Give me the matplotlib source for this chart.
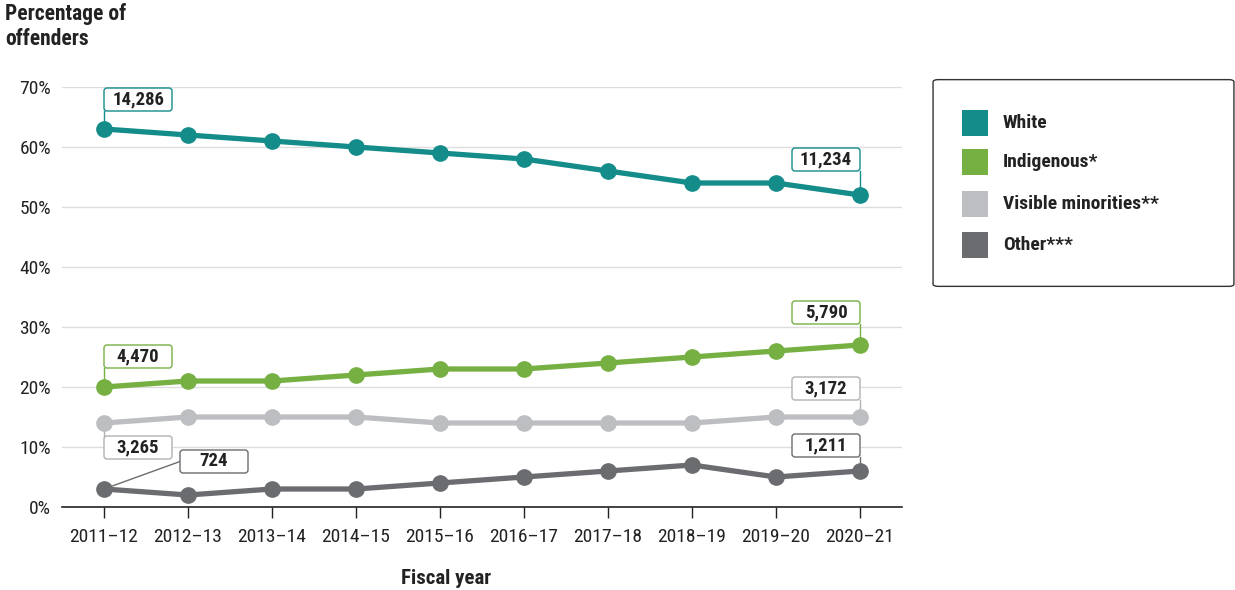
import matplotlib
matplotlib.use("Agg")
import matplotlib.pyplot as plt
from matplotlib.patches import FancyBboxPatch
from matplotlib.transforms import ScaledTranslation
from matplotlib import font_manager

names = {f.name for f in font_manager.fontManager.ttflist}
fam = [f for f in ["Roboto Condensed", "Roboto", "DejaVu Sans"] if f in names]
plt.rcParams["font.family"] = fam

years = ["2011\u201312", "2012\u201313", "2013\u201314", "2014\u201315", "2015\u201316",
         "2016\u201317", "2017\u201318", "2018\u201319", "2019\u201320", "2020\u201321"]
white = [63, 62, 61, 60, 59, 58, 56, 54, 54, 52]
indigenous = [20, 21, 21, 22, 23, 23, 24, 25, 26, 27]
visible = [14, 15, 15, 15, 14, 14, 14, 14, 15, 15]
other = [3, 2, 3, 3, 4, 5, 6, 7, 5, 6]
names_series = ["White", "Indigenous*", "Visible minorities**", "Other***"]
colors = ["#138c8a", "#76b043", "#bdbec1", "#6b6c70"]

# labels: (series index, year index, text)
labels = [(0, 0, "14,286"), (0, 9, "11,234"), (1, 0, "4,470"), (1, 9, "5,790"),
          (2, 0, "3,265"), (2, 9, "3,172"), (3, 0, "724"), (3, 9, "1,211")]

W, H = 1235, 590
fig = plt.figure(figsize=(W / 100, H / 100), dpi=100)
ax = fig.add_axes([62 / W, 1 - 507 / H, 840 / W, 420 / H])

series = [white, indigenous, visible, other]
x = list(range(len(years)))
for vals, c in zip(series[::-1], colors[::-1]):
    ax.plot(x, vals, color=c, lw=3.8, marker="o", ms=11, zorder=3)

ax.set_xlim(-0.5, len(years) - 0.5)
ax.set_ylim(0, 70)
ax.set_yticks(range(0, 71, 10))
ax.set_yticklabels([f"{v}%" for v in range(0, 71, 10)], fontsize=14, color="#222222")
ax.set_xticks(x)
ax.set_xticklabels(years, fontsize=14, color="#222222")
ax.tick_params(axis="y", length=0, pad=8)
ax.tick_params(axis="x", length=8, width=1, color="#222222", pad=7)
ax.grid(axis="y", color="#dddddd", lw=1)
ax.set_axisbelow(True)
for s in ["top", "right", "left"]:
    ax.spines[s].set_visible(False)
ax.spines["bottom"].set_color("#222222")
ax.spines["bottom"].set_linewidth(1.2)
ax.spines["bottom"].set_zorder(4)

# callout boxes: (box left, box bottom, leader end) in inches from the point
boxes = {
    "14,286": (0.0, 0.18, (0.0, 0.18)),
    "11,234": (-0.68, 0.24, (0.0, 0.24)),
    "4,470": (0.0, 0.19, (0.0, 0.19)),
    "5,790": (-0.68, 0.21, (0.0, 0.21)),
    "3,265": (0.0, -0.36, (0.0, -0.13)),
    "3,172": (-0.68, 0.17, (0.0, 0.17)),
    "724": (0.76, 0.16, (0.76, 0.275)),
    "1,211": (-0.68, 0.14, (0.0, 0.14)),
}
bw, bh = 0.68, 0.23
for si, yi, txt in labels:
    tr = fig.dpi_scale_trans + ScaledTranslation(yi, series[si][yi], ax.transData)
    bx, by, (lx, ly) = boxes[txt]
    ec = colors[si]
    if si == 2:
        ec = "#b0b1b4"
    ax.plot([0, lx], [0, ly], color=ec, lw=1, transform=tr, zorder=2, clip_on=False)
    ax.add_patch(FancyBboxPatch((bx + 0.03, by + 0.03), bw - 0.06, bh - 0.06,
                                boxstyle="round,pad=0.03", fc="white", ec=ec, lw=1,
                                transform=tr, zorder=5, clip_on=False))
    ax.text(bx + bw / 2, by + bh / 2, txt, transform=tr, ha="center", va="center",
            fontsize=13.5, fontweight="bold", color="#222222", zorder=6)

fig.text(5 / W, 1 - 3 / H, "Percentage of\noffenders", ha="left", va="top",
         fontsize=15.5, fontweight="bold", color="#222222", linespacing=1.15)
fig.text(446 / W, 1 - 578 / H, "Fiscal year", ha="center", va="center",
         fontsize=15, fontweight="bold", color="#222222")

# legend box
ft = fig.transFigure
fig.patches.append(FancyBboxPatch((938 / W, 1 - 284 / H), 291 / W, 202 / H,
                                  boxstyle="round,pad=0.004", fc="white", ec="#333333",
                                  lw=1, transform=ft))
rows = [123, 162, 204, 245]
for name, c, ry in zip(names_series, colors, rows):
    fig.patches.append(FancyBboxPatch((962 / W, 1 - (ry + 13) / H), 26 / W, 26 / H,
                                      boxstyle="square,pad=0", fc=c, ec="none",
                                      transform=ft))
    fig.text(1003 / W, 1 - ry / H, name, ha="left", va="center", fontsize=14,
             fontweight="bold", color="#222222")

fig.savefig("out.png", dpi=100)
